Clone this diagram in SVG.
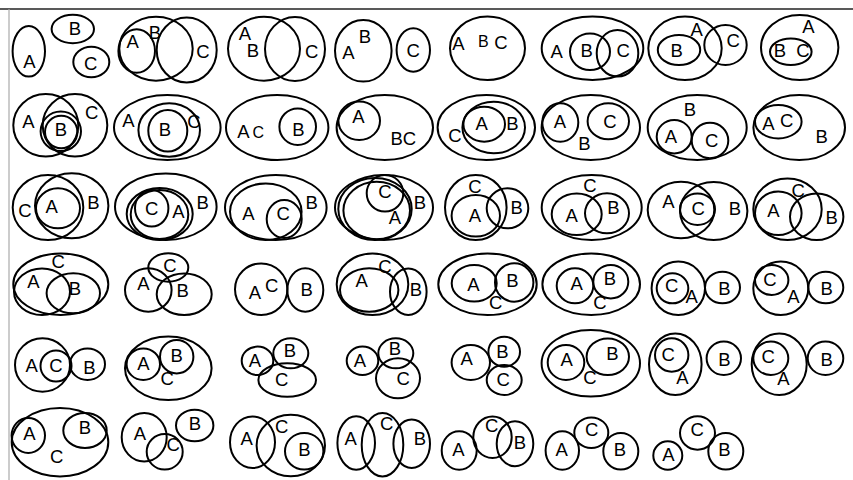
<svg xmlns="http://www.w3.org/2000/svg" width="853" height="480" viewBox="0 0 853 480">
<style>
ellipse{fill:none;stroke:#000;stroke-width:2}
text{font-family:"Liberation Sans",Arial,sans-serif;font-size:18.5px;text-anchor:middle;fill:#000}
.sm{font-size:16px}
</style>
<rect width="853" height="480" fill="#fff"/>
<line x1="0" y1="9" x2="853" y2="9" stroke="#222" stroke-width="1.3"/>
<line x1="9" y1="9" x2="9" y2="480" stroke="#aaa" stroke-width="1.2"/>
<!-- Row 1 -->
<g id="r1c1">
<ellipse cx="28.8" cy="51.3" rx="16.2" ry="25.3"/>
<ellipse cx="72.8" cy="29" rx="21.2" ry="14.2"/>
<ellipse cx="91.3" cy="62" rx="18" ry="15.3"/>
<text x="29.3" y="67.5">A</text><text x="75" y="35">B</text><text x="90.8" y="69.5">C</text>
</g>
<g id="r1c2">
<ellipse cx="156" cy="48.7" rx="36.7" ry="32"/>
<ellipse cx="186.7" cy="50" rx="30" ry="32.5"/>
<ellipse cx="136.7" cy="51" rx="18.3" ry="21.7"/>
<text x="155" y="39.3">B</text><text x="132.7" y="48.3">A</text><text x="203" y="58.3">C</text>
</g>
<g id="r1c3">
<ellipse cx="264" cy="48.7" rx="36" ry="32"/>
<ellipse cx="295" cy="49" rx="30" ry="32"/>
<text x="245" y="40">A</text><text x="253" y="57.3">B</text><text x="311.7" y="58">C</text>
</g>
<g id="r1c4">
<ellipse cx="363.3" cy="50.8" rx="28.3" ry="30.8"/>
<ellipse cx="413.3" cy="50" rx="16.7" ry="21.7"/>
<text x="348.3" y="59.3">A</text><text x="365" y="42.7">B</text><text x="413.3" y="57.3">C</text>
</g>
<g id="r1c5">
<ellipse cx="487.5" cy="48.3" rx="37.5" ry="31.7"/>
<text x="458.3" y="50">A</text><text class="sm" x="483.3" y="46.7">B</text><text x="501" y="49.3">C</text>
</g>
<g id="r1c6">
<ellipse cx="592.5" cy="48.3" rx="50.8" ry="31.7"/>
<ellipse cx="590" cy="51.7" rx="20" ry="18.3"/>
<ellipse cx="617.5" cy="53.3" rx="20.8" ry="23.3"/>
<text x="556.7" y="58.3">A</text><text x="586.7" y="57.3">B</text><text x="623.3" y="56.7">C</text>
</g>
<g id="r1c7">
<ellipse cx="685" cy="48.3" rx="36.7" ry="31.7"/>
<ellipse cx="679" cy="50" rx="21.2" ry="15"/>
<ellipse cx="725.5" cy="45" rx="21.2" ry="20"/>
<text x="696.7" y="36">A</text><text x="676.7" y="57.3">B</text><text x="733.3" y="47.3">C</text>
</g>
<g id="r1c8">
<ellipse cx="799.7" cy="47.5" rx="38.7" ry="32.5"/>
<ellipse cx="790.8" cy="51.7" rx="20.8" ry="13.3"/>
<text x="808.3" y="33.3">A</text><text x="780" y="57">B</text><text x="803" y="57">C</text>
</g>
<!-- Row 2 -->
<g id="r2c1">
<ellipse cx="45.8" cy="125.3" rx="32.5" ry="31.3"/>
<ellipse cx="75" cy="125.3" rx="32.3" ry="31.3"/>
<ellipse cx="60.8" cy="131.3" rx="20.2" ry="19.7"/>
<ellipse cx="61.2" cy="132" rx="16.2" ry="16.2"/>
<text x="28.3" y="128.3">A</text><text x="61" y="136">B</text><text x="91.7" y="119.3">C</text>
</g>
<g id="r2c2">
<ellipse cx="167.3" cy="127.5" rx="53.3" ry="32.5"/>
<ellipse cx="169.2" cy="130" rx="30.8" ry="26.7"/>
<ellipse cx="167.8" cy="130.8" rx="19.5" ry="20.8"/>
<text x="128.3" y="127.3">A</text><text x="165" y="136">B</text><text x="194" y="127.7">C</text>
</g>
<g id="r2c3">
<ellipse cx="277.2" cy="127.5" rx="51.2" ry="32.5"/>
<ellipse cx="297.7" cy="126.7" rx="18.3" ry="18.3"/>
<text x="243.3" y="138.3">A</text><text class="sm" x="258.3" y="138.3">C</text><text x="298.3" y="136">B</text>
</g>
<g id="r2c4">
<ellipse cx="384.8" cy="127.5" rx="48.2" ry="32.5"/>
<ellipse cx="359.2" cy="120.8" rx="20.8" ry="19.2"/>
<text x="358.3" y="122.7">A</text><text x="403.3" y="145">BC</text>
</g>
<g id="r2c5">
<ellipse cx="486.3" cy="127.5" rx="48.7" ry="32.5"/>
<ellipse cx="493.7" cy="127.5" rx="31.3" ry="25.8"/>
<ellipse cx="484.2" cy="124.2" rx="20.8" ry="17.5"/>
<text x="481.7" y="130">A</text><text x="512.3" y="130">B</text><text x="455" y="141.7">C</text>
</g>
<g id="r2c6">
<ellipse cx="590.8" cy="127.5" rx="49.2" ry="32.5"/>
<ellipse cx="560.3" cy="122.5" rx="18" ry="19.2"/>
<ellipse cx="608.3" cy="121.3" rx="20.7" ry="18"/>
<text x="560" y="128.3">A</text><text x="610" y="128">C</text><text x="584.3" y="150">B</text>
</g>
<g id="r2c7">
<ellipse cx="697.2" cy="127.5" rx="49.5" ry="32.5"/>
<ellipse cx="674.2" cy="136.7" rx="17.5" ry="16.7"/>
<ellipse cx="710" cy="140.5" rx="18.3" ry="17.8"/>
<text x="690" y="116">B</text><text x="671" y="142.7">A</text><text x="711.7" y="146.7">C</text>
</g>
<g id="r2c8">
<ellipse cx="799.2" cy="127.5" rx="45.8" ry="32.5"/>
<ellipse cx="778.3" cy="121.7" rx="23.3" ry="16.7"/>
<text x="768.3" y="130">A</text><text x="786.7" y="127">C</text><text x="821.7" y="142.7">B</text>
</g>
<!-- Row 3 -->
<g id="r3c1">
<ellipse cx="48" cy="207.5" rx="35.3" ry="32.5"/>
<ellipse cx="71.7" cy="205.8" rx="36.7" ry="32.5"/>
<ellipse cx="58" cy="208.3" rx="22" ry="20"/>
<text x="25" y="217.3">C</text><text x="51.7" y="213.3">A</text><text x="93.3" y="209.3">B</text>
</g>
<g id="r3c2">
<ellipse cx="165.8" cy="206.7" rx="50.8" ry="33.3"/>
<ellipse cx="159.7" cy="214" rx="33" ry="26"/>
<ellipse cx="159.5" cy="214.5" rx="28.8" ry="24.5"/>
<ellipse cx="151.7" cy="208.3" rx="16.7" ry="18.3"/>
<text x="151.7" y="215">C</text><text x="178.3" y="218.3">A</text><text x="202.7" y="209.3">B</text>
</g>
<g id="r3c3">
<ellipse cx="275.8" cy="207.5" rx="50.8" ry="32.5"/>
<ellipse cx="265.8" cy="211.7" rx="35.8" ry="28.3"/>
<ellipse cx="284.2" cy="219" rx="17.5" ry="19"/>
<text x="248.3" y="220">A</text><text x="283.3" y="220">C</text><text x="311.7" y="209">B</text>
</g>
<g id="r3c4">
<ellipse cx="384" cy="207.5" rx="49" ry="32.5"/>
<ellipse cx="375" cy="209" rx="36.7" ry="31"/>
<ellipse cx="376.7" cy="210.5" rx="33.3" ry="28.8"/>
<ellipse cx="385" cy="193.3" rx="18.3" ry="18.3"/>
<text x="385" y="198">C</text><text x="395" y="224">A</text><text x="420" y="209">B</text>
</g>
<g id="r3c5">
<ellipse cx="475.8" cy="207.5" rx="30.8" ry="32.5"/>
<ellipse cx="475.8" cy="215.8" rx="24.2" ry="20.8"/>
<ellipse cx="507.5" cy="208.3" rx="20.8" ry="20"/>
<text x="475" y="192.7">C</text><text x="475" y="221.7">A</text><text x="516.7" y="214">B</text>
</g>
<g id="r3c6">
<ellipse cx="591.7" cy="207.5" rx="50" ry="32.5"/>
<ellipse cx="576.7" cy="214.2" rx="25" ry="20.8"/>
<ellipse cx="607" cy="213.3" rx="22" ry="20"/>
<text x="590" y="192">C</text><text x="571.7" y="221.7">A</text><text x="613.3" y="214">B</text>
</g>
<g id="r3c7">
<ellipse cx="681" cy="210" rx="33.3" ry="28.3"/>
<ellipse cx="713.7" cy="211" rx="33.7" ry="29"/>
<ellipse cx="697.5" cy="209.2" rx="17.5" ry="15.8"/>
<text x="668.3" y="208">A</text><text x="698.3" y="215">C</text><text x="735" y="215">B</text>
</g>
<g id="r3c8">
<ellipse cx="787.5" cy="209.2" rx="34.2" ry="30.8"/>
<ellipse cx="778.3" cy="213.3" rx="23.3" ry="21.7"/>
<ellipse cx="816.7" cy="216.7" rx="26.7" ry="23.3"/>
<text x="798.3" y="197">C</text><text x="773.3" y="217">A</text><text x="831.7" y="224">B</text>
</g>
<!-- Row 4 -->
<g id="r4c1">
<ellipse cx="60.8" cy="284.2" rx="47.5" ry="30.8"/>
<ellipse cx="42" cy="291.7" rx="28" ry="23.3"/>
<ellipse cx="73.3" cy="293.3" rx="26.7" ry="20"/>
<text x="58.3" y="268">C</text><text x="33.3" y="288">A</text><text x="75" y="295">B</text>
</g>
<g id="r4c2">
<ellipse cx="168.3" cy="267.5" rx="20" ry="14.2"/>
<ellipse cx="148.3" cy="290" rx="23.3" ry="21.7"/>
<ellipse cx="184.2" cy="294.2" rx="27.5" ry="20.8"/>
<text x="170" y="272">C</text><text x="143.3" y="290">A</text><text x="182.7" y="297">B</text>
</g>
<g id="r4c3">
<ellipse cx="261.2" cy="289.2" rx="26.2" ry="25.8"/>
<ellipse cx="305.3" cy="290" rx="18" ry="21.7"/>
<text x="255" y="299">A</text><text x="271.7" y="291.7">C</text><text x="306.7" y="296">B</text>
</g>
<g id="r4c4">
<ellipse cx="372.5" cy="284.2" rx="35.8" ry="30.8"/>
<ellipse cx="369.2" cy="290" rx="29.2" ry="21.7"/>
<ellipse cx="408.3" cy="291.7" rx="18.3" ry="23.3"/>
<text x="385" y="272.7">C</text><text x="361.7" y="287">A</text><text x="416" y="296">B</text>
</g>
<g id="r4c5">
<ellipse cx="487.5" cy="284.2" rx="49.2" ry="30.8"/>
<ellipse cx="474.2" cy="283.3" rx="22.5" ry="18.3"/>
<ellipse cx="514.2" cy="282.5" rx="19.2" ry="19.2"/>
<text x="473.3" y="291">A</text><text x="512.3" y="287">B</text><text x="495.7" y="309">C</text>
</g>
<g id="r4c6">
<ellipse cx="591.2" cy="284.2" rx="48.8" ry="30.8"/>
<ellipse cx="575" cy="285.8" rx="18.3" ry="17.5"/>
<ellipse cx="610.8" cy="281.7" rx="17.5" ry="16.7"/>
<text x="576.7" y="290">A</text><text x="610" y="285">B</text><text x="600" y="309">C</text>
</g>
<g id="r4c7">
<ellipse cx="678.3" cy="288.3" rx="26.7" ry="26.7"/>
<ellipse cx="672.5" cy="288.3" rx="15.8" ry="15"/>
<ellipse cx="722.5" cy="287.5" rx="17.5" ry="15.8"/>
<text x="671.7" y="292">C</text><text x="691.7" y="303">A</text><text x="724.3" y="295">B</text>
</g>
<g id="r4c8">
<ellipse cx="780.8" cy="288.3" rx="27.5" ry="26.7"/>
<ellipse cx="771.7" cy="280" rx="16.7" ry="15"/>
<ellipse cx="825.8" cy="287.5" rx="17.5" ry="15.8"/>
<text x="770" y="286">C</text><text x="793.3" y="303">A</text><text x="826.7" y="295">B</text>
</g>
<!-- Row 5 -->
<g id="r5c1">
<ellipse cx="42.5" cy="365" rx="27.5" ry="26.7"/>
<ellipse cx="56" cy="366" rx="15.5" ry="15.5"/>
<ellipse cx="87.5" cy="364.2" rx="17.5" ry="15.8"/>
<text x="31.7" y="372">A</text><text x="56" y="372">C</text><text x="89.3" y="374">B</text>
</g>
<g id="r5c2">
<ellipse cx="168.3" cy="368.3" rx="43.3" ry="31.7"/>
<ellipse cx="143.3" cy="364.2" rx="16.7" ry="15.8"/>
<ellipse cx="176.7" cy="356.7" rx="16.7" ry="16.7"/>
<text x="143.3" y="370">A</text><text x="176.7" y="362">B</text><text x="167.3" y="385">C</text>
</g>
<g id="r5c3">
<ellipse cx="257.5" cy="360.8" rx="15.8" ry="14.2"/>
<ellipse cx="290.8" cy="353.3" rx="17.5" ry="15"/>
<ellipse cx="287.2" cy="380" rx="28.8" ry="16.7"/>
<text x="255" y="367">A</text><text x="290" y="357">B</text><text x="281.7" y="386">C</text>
</g>
<g id="r5c4">
<ellipse cx="362.5" cy="360.8" rx="15.8" ry="14.2"/>
<ellipse cx="395.8" cy="353.3" rx="17.5" ry="15"/>
<ellipse cx="398" cy="378.3" rx="22" ry="20"/>
<text x="360" y="367">A</text><text x="395" y="355">B</text><text x="403.3" y="385">C</text>
</g>
<g id="r5c5">
<ellipse cx="470.8" cy="362.5" rx="19.2" ry="17.5"/>
<ellipse cx="504.2" cy="351.7" rx="15.8" ry="15"/>
<ellipse cx="504.2" cy="380" rx="17.5" ry="15"/>
<text x="466.7" y="365">A</text><text x="502.3" y="358">B</text><text x="503.3" y="386">C</text>
</g>
<g id="r5c6">
<ellipse cx="590.8" cy="363.3" rx="49.2" ry="33.3"/>
<ellipse cx="566" cy="362.5" rx="18.3" ry="17.5"/>
<ellipse cx="607.8" cy="356.7" rx="21.2" ry="18.3"/>
<text x="566.7" y="366">A</text><text x="612.3" y="360">B</text><text x="590" y="384">C</text>
</g>
<g id="r5c7">
<ellipse cx="675.3" cy="364.2" rx="26.3" ry="30.8"/>
<ellipse cx="671.7" cy="355" rx="16.7" ry="16.7"/>
<ellipse cx="723.8" cy="358.3" rx="17.2" ry="16.7"/>
<text x="668.3" y="361">C</text><text x="682.3" y="384">A</text><text x="724.3" y="366">B</text>
</g>
<g id="r5c8">
<ellipse cx="779.2" cy="364.2" rx="27.5" ry="30.8"/>
<ellipse cx="770.8" cy="358.3" rx="17.5" ry="16.7"/>
<ellipse cx="825.5" cy="358.3" rx="17.8" ry="16.7"/>
<text x="768.3" y="363">C</text><text x="783.3" y="385">A</text><text x="826.7" y="366">B</text>
</g>
<!-- Row 6 -->
<g id="r6c1">
<ellipse cx="60" cy="442.2" rx="48.3" ry="34.2"/>
<ellipse cx="28.3" cy="435.5" rx="16.7" ry="17.5"/>
<ellipse cx="85" cy="430.5" rx="21.7" ry="17.5"/>
<text x="29.3" y="440">A</text><text x="85" y="433.7">B</text><text x="56.7" y="463">C</text>
</g>
<g id="r6c2">
<ellipse cx="144.2" cy="437.2" rx="22.5" ry="24.2"/>
<ellipse cx="164.7" cy="451.8" rx="18" ry="17.8"/>
<ellipse cx="194.7" cy="425.5" rx="18.7" ry="15.8"/>
<text x="140" y="440">A</text><text x="173.3" y="451">C</text><text x="195" y="430">B</text>
</g>
<g id="r6c3">
<ellipse cx="252.5" cy="442.2" rx="22.5" ry="25.8"/>
<ellipse cx="290.8" cy="445.5" rx="34.2" ry="30.8"/>
<ellipse cx="304.2" cy="451.3" rx="19.2" ry="18.3"/>
<text x="246.7" y="445">A</text><text x="281.7" y="433">C</text><text x="304.3" y="456">B</text>
</g>
<g id="r6c4">
<ellipse cx="356.2" cy="443" rx="18.8" ry="26.7"/>
<ellipse cx="382.5" cy="444.7" rx="20.8" ry="31.7"/>
<ellipse cx="411.7" cy="443.8" rx="18.3" ry="24.2"/>
<text x="350.7" y="445">A</text><text x="386.7" y="430">C</text><text x="420" y="445">B</text>
</g>
<g id="r6c5">
<ellipse cx="459.2" cy="450.5" rx="17.5" ry="19.2"/>
<ellipse cx="492.5" cy="437.2" rx="19.2" ry="20.8"/>
<ellipse cx="515" cy="443.8" rx="18.3" ry="22.5"/>
<text x="458.3" y="456">A</text><text x="491.7" y="432">C</text><text x="520" y="449">B</text>
</g>
<g id="r6c6">
<ellipse cx="562.3" cy="450.5" rx="16.7" ry="19.2"/>
<ellipse cx="591.3" cy="432.7" rx="17" ry="15.3"/>
<ellipse cx="620.8" cy="451.3" rx="17.5" ry="18.3"/>
<text x="561.7" y="456">A</text><text x="591.7" y="436">C</text><text x="620" y="456">B</text>
</g>
<g id="r6c7">
<ellipse cx="667.8" cy="455.5" rx="14.5" ry="14.2"/>
<ellipse cx="697.5" cy="433" rx="17.5" ry="16.7"/>
<ellipse cx="725.8" cy="451.3" rx="17.5" ry="18.3"/>
<text x="668.3" y="461">A</text><text x="697.3" y="436">C</text><text x="724.3" y="456">B</text>
</g>
</svg>
